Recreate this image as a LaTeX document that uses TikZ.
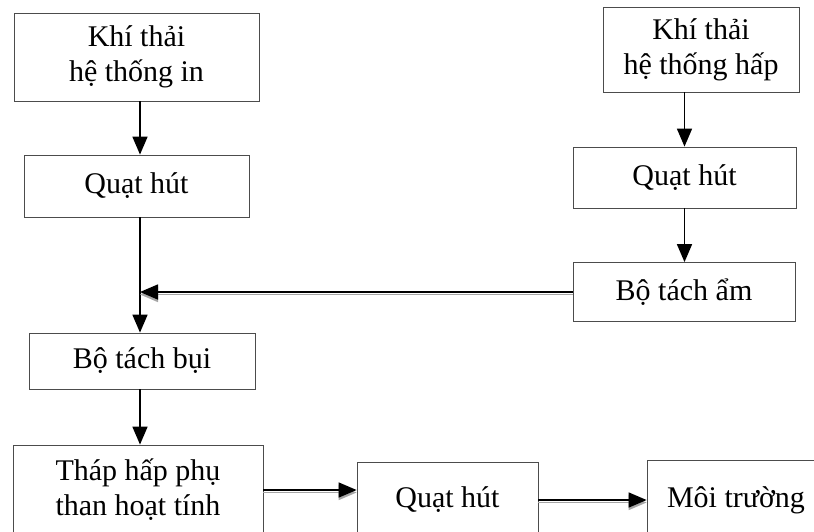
\documentclass[tikz,border=0pt]{standalone}
\usepackage{fontspec}
\setmainfont{Liberation Serif}
\usetikzlibrary{positioning}
\usetikzlibrary{arrows.meta}
\tikzset{
        box/.style={draw=black!70, line width=0.8pt, align=center, inner sep=0pt,
                    font=\fontsize{30}{35}\selectfont},
        % Vertical flow arrows
        flow/.style={-{Triangle[length=18pt,width=15pt]}, line width=1.6pt},
        % Horizontal arrows with a grey shadow
        flow_shadow/.style={flow, preaction={draw=black!35, line width=1.6pt,
                    -{Triangle[length=18pt,width=15pt]}, transform canvas={yshift=-2.5pt}}}
}
\begin{document}
\begin{tikzpicture}[x=1pt, y=-1pt]
    \useasboundingbox (0,0) rectangle (814,531);
    \clip (0,0) rectangle (814,531);
    % left column
    \node[box, minimum width=245pt, minimum height=88pt] (khi_in) at (136.5,57) {Khí thải\\hệ thống in};
    \node[box, minimum width=225pt, minimum height=62pt] (quat_in) at (136.5,186) {Quạt hút};
    \node[box, minimum width=226pt, minimum height=56pt] (tach_bui) at (142,361) {Bộ tách bụi};
    \node[box, minimum width=250pt, minimum height=90pt] (thap) at (138,490) {Tháp hấp phụ\\than hoạt tính};
    % right column
    \node[box, minimum width=196pt, minimum height=85pt] (khi_hap) at (701,49.5) {Khí thải\\hệ thống hấp};
    \node[box, minimum width=223pt, minimum height=61pt] (quat_hap) at (684.5,177.5) {Quạt hút};
    \node[box, minimum width=222pt, minimum height=59pt] (tach_am) at (684,292) {Bộ tách ẩm};
    % bottom row
    \node[box, minimum width=181pt, minimum height=76pt] (quat_ra) at (447.5,500) {Quạt hút};
    \node[box, minimum width=178pt, minimum height=80pt] (moi_truong) at (736,500) {Môi trường};
    \coordinate (nhap) at (140,292);

    \draw[flow] (khi_in.south -| nhap) -- (quat_in.north -| nhap);
    \draw[flow] (quat_in.south -| nhap) -- (tach_bui.north -| nhap);
    \draw[flow_shadow] (tach_am.west) -- (nhap);
    \draw[flow] (tach_bui.south -| nhap) -- (thap.north -| nhap);
    \draw[flow] (khi_hap.south -| quat_hap) -- (quat_hap.north);
    \draw[flow] (quat_hap.south) -- (tach_am.north -| quat_hap);
    \draw[flow_shadow] (thap.east) -- (thap.east -| quat_ra.west);
    \draw[flow_shadow] (quat_ra.east) -- (quat_ra.east -| moi_truong.west);
\end{tikzpicture}
\end{document}
